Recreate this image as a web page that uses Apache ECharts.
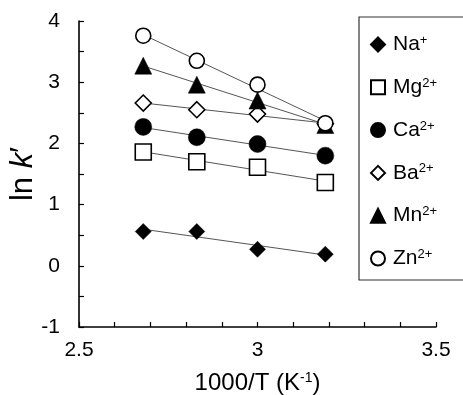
<!DOCTYPE html>
<html>
<head>
<meta charset="utf-8">
<script src="https://cdn.jsdelivr.net/npm/echarts@6/dist/echarts.min.js"></script>
<style>
  html, body { margin: 0; padding: 0; background: #fff; }
  #chart { width: 463px; height: 395px; }
</style>
</head>
<body>
<div id="chart"></div>
<script>
// 1000/T values (K^-1)
let x_vals = [2.68, 2.83, 3.0, 3.19]
// ln k' for each ion
let na_vals = [0.56, 0.56, 0.27, 0.19]
let mg_vals = [1.86, 1.70, 1.61, 1.36]
let ca_vals = [2.27, 2.10, 1.99, 1.80]
let ba_vals = [2.66, 2.55, 2.48, 2.32]
let mn_vals = [3.27, 2.96, 2.70, 2.30]
let zn_vals = [3.76, 3.35, 2.96, 2.33]

let ion_names = ['Na+', 'Mg2+', 'Ca2+', 'Ba2+', 'Mn2+', 'Zn2+']
let ion_labels = ['Na{sup|+}', 'Mg{sup|2+}', 'Ca{sup|2+}', 'Ba{sup|2+}', 'Mn{sup|2+}', 'Zn{sup|2+}']
let ion_vals = [na_vals, mg_vals, ca_vals, ba_vals, mn_vals, zn_vals]
let ion_symbols = ['diamond', 'rect', 'circle', 'diamond', 'triangle', 'circle']
let ion_filled = [true, false, true, false, true, false]
let ion_sizes = [16, 16, 17, 16, 17, 15]

// least squares line through the points, drawn from first to last x
function fit_line(xs, ys) {
    let n = xs.length
    let sx = 0, sy = 0, sxx = 0, sxy = 0
    for (let i = 0; i < n; i++) {
        sx += xs[i]; sy += ys[i]
        sxx += xs[i] * xs[i]; sxy += xs[i] * ys[i]
    }
    let b = (n * sxy - sx * sy) / (n * sxx - sx * sx)
    let a = (sy - b * sx) / n
    return [[xs[0], a + b * xs[0]], [xs[n - 1], a + b * xs[n - 1]]]
}

let font = 'Liberation Sans, Arial, sans-serif'
let series = []

for (let i = 0; i < ion_names.length; i++) {
    series.push({
        name: 'fit' + i,
        type: 'line',
        data: fit_line(x_vals, ion_vals[i]),
        symbol: 'none',
        silent: true,
        z: 1,
        lineStyle: { color: '#555', width: 1 }
    })
}
for (let i = 0; i < ion_names.length; i++) {
    let pts = []
    for (let j = 0; j < x_vals.length; j++) pts.push([x_vals[j], ion_vals[i][j]])
    series.push({
        name: ion_names[i],
        type: 'scatter',
        data: pts,
        symbol: ion_symbols[i],
        symbolSize: ion_sizes[i],
        z: 3,
        itemStyle: ion_filled[i]
            ? { color: '#000', borderColor: '#000', borderWidth: 0.5, opacity: 1 }
            : { color: '#fff', borderColor: '#000', borderWidth: 1.6, opacity: 1 }
    })
}

let option = {
    animation: false,
    backgroundColor: '#fff',
    textStyle: { fontFamily: font },
    grid: { left: 79, top: 21, right: 27, bottom: 68, containLabel: false, outerBoundsMode: 'none' },
    legend: {
        data: ion_names,
        orient: 'vertical',
        left: 359,
        top: 17,
        width: 120,
        padding: [17, 40, 11, 11],
        itemWidth: 14,
        itemHeight: 14,
        itemGap: 21.8,
        borderColor: '#333',
        borderWidth: 1.2,
        borderRadius: 0,
        backgroundColor: '#fff',
        formatter: function (name) {
            return ion_labels[ion_names.indexOf(name)]
        },
        textStyle: {
            fontFamily: font,
            fontSize: 21,
            color: '#000',
            padding: [0, 0, 0, 3],
            rich: {
                sup: { fontSize: 13, verticalAlign: 'top', padding: [0, 0, 8, 0], fontFamily: font, color: '#000' }
            }
        }
    },
    xAxis: {
        type: 'value',
        min: 2.5,
        max: 3.5,
        interval: 0.5,
        name: '1000/T (K{sup|-1})',
        nameLocation: 'middle',
        nameGap: 44,
        nameMoveOverlap: false,
        nameTextStyle: {
            fontFamily: font, fontSize: 24, color: '#000',
            rich: { sup: { fontSize: 14, verticalAlign: 'top', padding: [0, 0, 10, 0], fontFamily: font, color: '#000' } }
        },
        axisLine: { onZero: false, lineStyle: { color: '#000', width: 1.6 } },
        axisTick: { inside: true, length: 5, lineStyle: { color: '#000', width: 1.2 } },
        minorTick: { show: true, splitNumber: 5, length: 5, lineStyle: { color: '#000', width: 1.2 } },
        axisLabel: { fontFamily: font, fontSize: 21, color: '#000', margin: 13 },
        splitLine: { show: false }
    },
    yAxis: {
        type: 'value',
        min: -1,
        max: 4,
        interval: 1,
        name: 'ln {i|k}′',
        nameLocation: 'middle',
        nameGap: 40,
        nameMoveOverlap: false,
        nameRotate: 90,
        nameTextStyle: {
            fontFamily: font, fontSize: 31, color: '#000',
            rich: { i: { fontStyle: 'italic', fontSize: 31, fontFamily: font, color: '#000' } }
        },
        axisLine: { show: true, onZero: false, lineStyle: { color: '#000', width: 1.6 } },
        axisTick: { show: true, inside: true, length: 5, lineStyle: { color: '#000', width: 1.2 } },
        minorTick: { show: true, splitNumber: 2, length: 5, lineStyle: { color: '#000', width: 1.2 } },
        axisLabel: { fontFamily: font, fontSize: 21, color: '#000', margin: 19 },
        splitLine: { show: false }
    },
    series: series
}

const dom = document.getElementById('chart')
const myChart = echarts.init(dom)
myChart.setOption(option, true)
</script>
</body>
</html>
